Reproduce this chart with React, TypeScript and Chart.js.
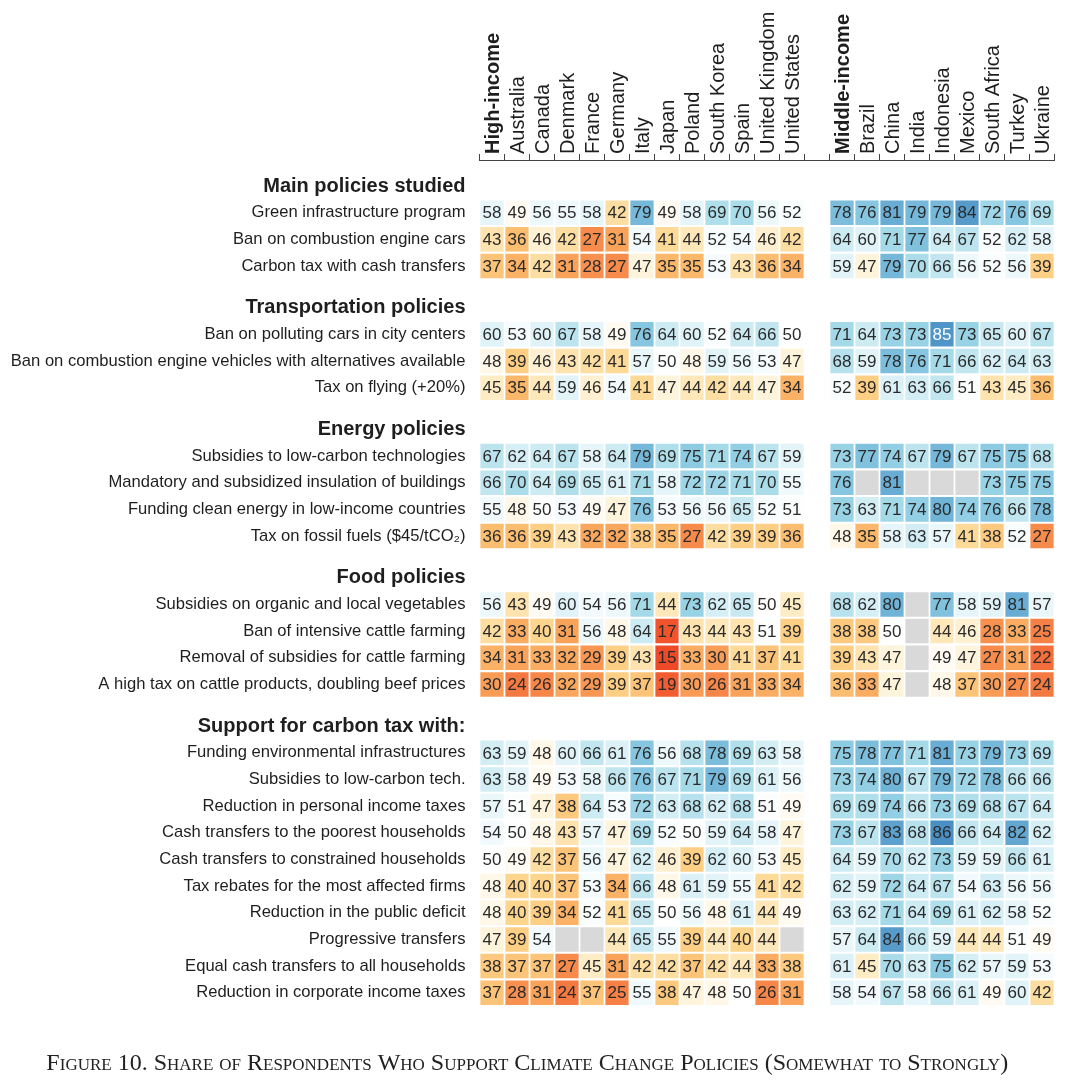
import React, { useEffect, useRef } from 'react';
import { Chart, registerables } from 'chart.js';

Chart.register(...registerables);

// ---------- Data ----------
const highIncomeCols = ['High-income', 'Australia', 'Canada', 'Denmark', 'France', 'Germany', 'Italy', 'Japan', 'Poland', 'South Korea', 'Spain', 'United Kingdom', 'United States'];
const middleIncomeCols = ['Middle-income', 'Brazil', 'China', 'India', 'Indonesia', 'Mexico', 'South Africa', 'Turkey', 'Ukraine'];
const columns = [...highIncomeCols, '', ...middleIncomeCols];

const sectionTitles = ['Main policies studied', 'Transportation policies', 'Energy policies', 'Food policies', 'Support for carbon tax with:'];

const mainLabels = ['Green infrastructure program', 'Ban on combustion engine cars', 'Carbon tax with cash transfers'];
const mainValues: (number | null)[][] = [
  [58, 49, 56, 55, 58, 42, 79, 49, 58, 69, 70, 56, 52, 78, 76, 81, 79, 79, 84, 72, 76, 69],
  [43, 36, 46, 42, 27, 31, 54, 41, 44, 52, 54, 46, 42, 64, 60, 71, 77, 64, 67, 52, 62, 58],
  [37, 34, 42, 31, 28, 27, 47, 35, 35, 53, 43, 36, 34, 59, 47, 79, 70, 66, 56, 52, 56, 39],
];

const transportLabels = ['Ban on polluting cars in city centers', 'Ban on combustion engine vehicles with alternatives available', 'Tax on flying (+20%)'];
const transportValues: (number | null)[][] = [
  [60, 53, 60, 67, 58, 49, 76, 64, 60, 52, 64, 66, 50, 71, 64, 73, 73, 85, 73, 65, 60, 67],
  [48, 39, 46, 43, 42, 41, 57, 50, 48, 59, 56, 53, 47, 68, 59, 78, 76, 71, 66, 62, 64, 63],
  [45, 35, 44, 59, 46, 54, 41, 47, 44, 42, 44, 47, 34, 52, 39, 61, 63, 66, 51, 43, 45, 36],
];

const energyLabels = ['Subsidies to low-carbon technologies', 'Mandatory and subsidized insulation of buildings', 'Funding clean energy in low-income countries', 'Tax on fossil fuels ($45/tCO₂)'];
const energyValues: (number | null)[][] = [
  [67, 62, 64, 67, 58, 64, 79, 69, 75, 71, 74, 67, 59, 73, 77, 74, 67, 79, 67, 75, 75, 68],
  [66, 70, 64, 69, 65, 61, 71, 58, 72, 72, 71, 70, 55, 76, null, 81, null, null, null, 73, 75, 75],
  [55, 48, 50, 53, 49, 47, 76, 53, 56, 56, 65, 52, 51, 73, 63, 71, 74, 80, 74, 76, 66, 78],
  [36, 36, 39, 43, 32, 32, 38, 35, 27, 42, 39, 39, 36, 48, 35, 58, 63, 57, 41, 38, 52, 27],
];

const foodLabels = ['Subsidies on organic and local vegetables', 'Ban of intensive cattle farming', 'Removal of subsidies for cattle farming', 'A high tax on cattle products, doubling beef prices'];
const foodValues: (number | null)[][] = [
  [56, 43, 49, 60, 54, 56, 71, 44, 73, 62, 65, 50, 45, 68, 62, 80, null, 77, 58, 59, 81, 57],
  [42, 33, 40, 31, 56, 48, 64, 17, 43, 44, 43, 51, 39, 38, 38, 50, null, 44, 46, 28, 33, 25],
  [34, 31, 33, 32, 29, 39, 43, 15, 33, 30, 41, 37, 41, 39, 43, 47, null, 49, 47, 27, 31, 22],
  [30, 24, 26, 32, 29, 39, 37, 19, 30, 26, 31, 33, 34, 36, 33, 47, null, 48, 37, 30, 27, 24],
];

const carbonTaxLabels = [
  'Funding environmental infrastructures',
  'Subsidies to low-carbon tech.',
  'Reduction in personal income taxes',
  'Cash transfers to the poorest households',
  'Cash transfers to constrained households',
  'Tax rebates for the most affected firms',
  'Reduction in the public deficit',
  'Progressive transfers',
  'Equal cash transfers to all households',
  'Reduction in corporate income taxes',
];
const carbonTaxValues: (number | null)[][] = [
  [63, 59, 48, 60, 66, 61, 76, 56, 68, 78, 69, 63, 58, 75, 78, 77, 71, 81, 73, 79, 73, 69],
  [63, 58, 49, 53, 58, 66, 76, 67, 71, 79, 69, 61, 56, 73, 74, 80, 67, 79, 72, 78, 66, 66],
  [57, 51, 47, 38, 64, 53, 72, 63, 68, 62, 68, 51, 49, 69, 69, 74, 66, 73, 69, 68, 67, 64],
  [54, 50, 48, 43, 57, 47, 69, 52, 50, 59, 64, 58, 47, 73, 67, 83, 68, 86, 66, 64, 82, 62],
  [50, 49, 42, 37, 56, 47, 62, 46, 39, 62, 60, 53, 45, 64, 59, 70, 62, 73, 59, 59, 66, 61],
  [48, 40, 40, 37, 53, 34, 66, 48, 61, 59, 55, 41, 42, 62, 59, 72, 64, 67, 54, 63, 56, 56],
  [48, 40, 39, 34, 52, 41, 65, 50, 56, 48, 61, 44, 49, 63, 62, 71, 64, 69, 61, 62, 58, 52],
  [47, 39, 54, null, null, 44, 65, 55, 39, 44, 40, 44, null, 57, 64, 84, 66, 59, 44, 44, 51, 49],
  [38, 37, 37, 27, 45, 31, 42, 42, 37, 42, 44, 33, 38, 61, 45, 70, 63, 75, 62, 57, 59, 53],
  [37, 28, 31, 24, 37, 25, 55, 38, 47, 48, 50, 26, 31, 58, 54, 67, 58, 66, 61, 49, 60, 42],
];

const sectionLabels = [mainLabels, transportLabels, energyLabels, foodLabels, carbonTaxLabels];
const sectionValues = [mainValues, transportValues, energyValues, foodValues, carbonTaxValues];

const titleText = 'Figure 10. Share of Respondents Who Support Climate Change Policies (Somewhat to Strongly)';

// ---------- Styling ----------
const SANS = "'Liberation Sans', Arial, sans-serif";
const SERIF = "'Liberation Serif', 'Times New Roman', serif";
const SECTION_GAP = 1.567;
const MISSING_COLOR = '#d9d9d9';
const colorStops: [number, number[]][] = [
  [15, [239, 74, 40]],
  [20, [243, 98, 52]],
  [25, [246, 128, 70]],
  [30, [249, 156, 86]],
  [35, [251, 184, 106]],
  [40, [253, 213, 140]],
  [45, [254, 236, 196]],
  [50, [255, 255, 255]],
  [55, [240, 249, 252]],
  [60, [224, 243, 248]],
  [65, [200, 233, 242]],
  [70, [170, 220, 234]],
  [75, [140, 203, 226]],
  [80, [111, 179, 215]],
  [86, [74, 143, 196]],
];

function cellColor(v: number | null): string {
  if (v === null) return MISSING_COLOR;
  if (v <= colorStops[0][0]) return `rgb(${colorStops[0][1].join(',')})`;
  for (let i = 1; i < colorStops.length; i++) {
    const [v1, c1] = colorStops[i];
    const [v0, c0] = colorStops[i - 1];
    if (v <= v1) {
      const t = (v - v0) / (v1 - v0);
      const c = c0.map((a, k) => Math.round(a + (c1[k] - a) * t));
      return `rgb(${c.join(',')})`;
    }
  }
  return `rgb(${colorStops[colorStops.length - 1][1].join(',')})`;
}

// ---------- Build rows ----------
type YTick = { pos: number; label: string; header: boolean };
const yTicks: YTick[] = [];
const rows: { pos: number; values: (number | null)[] }[] = [];
{
  let pos = 0;
  sectionTitles.forEach((title, si) => {
    if (si > 0) pos += SECTION_GAP;
    yTicks.push({ pos, label: title, header: true });
    sectionLabels[si].forEach((lab, ri) => {
      pos += 1;
      yTicks.push({ pos, label: lab, header: false });
      rows.push({ pos, values: sectionValues[si][ri] });
    });
  });
}

function valueAt(values: (number | null)[], col: number): number | null | undefined {
  if (col === highIncomeCols.length) return undefined; // gap column
  const idx = col < highIncomeCols.length ? col : col - 1;
  return values[idx];
}

const HALF = 0.46;

const cellLabelPlugin = {
  id: 'cellLabels',
  afterDatasetsDraw(chart: any) {
    const ctx = chart.ctx;
    ctx.save();
    ctx.font = `17px ${SANS}`;
    ctx.textAlign = 'center';
    ctx.textBaseline = 'middle';
    rows.forEach((row, di) => {
      const meta = chart.getDatasetMeta(di);
      meta.data.forEach((bar: any, col: number) => {
        const v = valueAt(row.values, col);
        if (v === undefined || v === null) return;
        const p = bar.getCenterPoint();
        ctx.fillStyle = v === 85 ? '#ffffff' : '#2b2b2b';
        ctx.fillText(String(v), p.x, p.y + 1);
      });
    });
    ctx.restore();
  },
};

export default function App() {
  const canvasRef = useRef<HTMLCanvasElement | null>(null);

  useEffect(() => {
    if (!canvasRef.current) return;
    const datasets = rows.map((row) => ({
      label: String(row.pos),
      data: columns.map((_, col) => {
        const v = valueAt(row.values, col);
        if (v === undefined) return null;
        return [row.pos - HALF, row.pos + HALF];
      }),
      backgroundColor: columns.map((_, col) => {
        const v = valueAt(row.values, col);
        if (v === undefined) return 'rgba(0,0,0,0)';
        return cellColor(v);
      }),
      borderWidth: 0,
      borderSkipped: false,
      grouped: false,
      barPercentage: 0.93,
      categoryPercentage: 1,
    }));

    const chart = new Chart(canvasRef.current, {
      type: 'bar',
      data: { labels: columns, datasets: datasets as any },
      plugins: [cellLabelPlugin],
      options: {
        animation: false,
        responsive: false,
        maintainAspectRatio: false,
        layout: { padding: { left: 0, right: 13.5, top: 0, bottom: 0 } },
        plugins: {
          legend: { display: false },
          tooltip: { enabled: false },
          title: {
            display: true,
            position: 'bottom',
            text: titleText,
            color: '#222',
            font: { family: SERIF, size: 24, weight: 'small-caps' as any },
            padding: { top: 37, bottom: 2 },
          },
        },
        scales: {
          x: {
            type: 'category',
            position: 'top',
            offset: true,
            grid: {
              offset: true,
              drawOnChartArea: false,
              drawTicks: true,
              tickLength: 6,
              color: '#444',
              lineWidth: 1,
            },
            border: { display: true, color: '#444', width: 1 },
            ticks: {
              autoSkip: false,
              minRotation: 90,
              maxRotation: 90,
              padding: 0,
              labelOffset: 25,
              color: '#1e1e1e',
              font: (ctx: any) => ({
                family: SANS,
                size: 20,
                weight: columns[ctx.index] === 'High-income' || columns[ctx.index] === 'Middle-income' ? 'bold' : 'normal',
              }),
            },
            afterFit: (scale: any) => {
              scale.height = 160;
            },
          },
          y: {
            type: 'linear',
            reverse: true,
            min: -0.975,
            max: 31,
            grid: { display: false, drawTicks: false },
            border: { display: false },
            afterBuildTicks: (scale: any) => {
              scale.ticks = yTicks.map((t) => ({ value: t.pos }));
            },
            ticks: {
              autoSkip: false,
              padding: 14,
              color: '#1e1e1e',
              callback: (_v: any, index: number) => yTicks[index] ? yTicks[index].label : '',
              font: (ctx: any) => {
                const t = yTicks[ctx.index];
                return t && t.header
                  ? { family: SANS, size: 20, weight: 'bold' }
                  : { family: SANS, size: 16.6, weight: 'normal' };
              },
            },
            afterFit: (scale: any) => {
              scale.width = 479.5;
            },
          },
        },
      },
    });
    return () => chart.destroy();
  }, []);

  return (
    <div style={{ position: 'absolute', left: 0, top: 0, width: 1068, height: 1080, background: '#fff' }}>
      <canvas ref={canvasRef} width={1068} height={1080} style={{ width: 1068, height: 1080 }} />
    </div>
  );
}
